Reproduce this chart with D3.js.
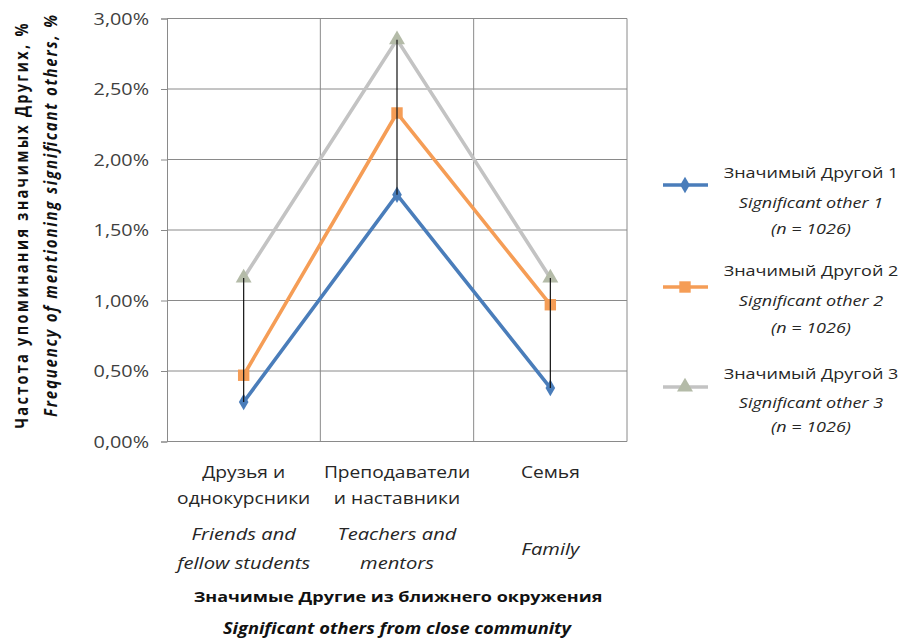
<!DOCTYPE html>
<html><head><meta charset="utf-8">
<script src="https://cdn.jsdelivr.net/npm/d3@7"></script>
<style>
html,body{margin:0;padding:0;background:#fff;}
svg text{font-family:"Open Sans","Noto Sans",sans-serif;fill:#262626;}
</style></head>
<body>
<svg id="chart" width="904" height="640"></svg>
<script>
const categoriesRu = [["Друзья и","однокурсники"],["Преподаватели","и наставники"],["Семья"]];
const categoriesEn = [["Friends and","fellow students"],["Teachers and","mentors"],["Family"]];
const categoryKeys = ["friends","teachers","family"];
const series1 = [0.0028, 0.0175, 0.0038];
const series2 = [0.0047, 0.0233, 0.0097];
const series3 = [0.0116, 0.0285, 0.0116];
const seriesNamesRu = ["Значимый Другой 1","Значимый Другой 2","Значимый Другой 3"];
const seriesNamesEn = ["Significant other 1","Significant other 2","Significant other 3"];
const seriesN = ["(n = 1026)","(n = 1026)","(n = 1026)"];
const yTicks = [0, 0.005, 0.01, 0.015, 0.02, 0.025, 0.03];
const yTitleRu = "Частота упоминания  значимых Других, %";
const yTitleEn = "Frequency of mentioning significant others, %";
const xTitleRu = "Значимые  Другие из ближнего окружения";
const xTitleEn = "Significant others from close  community";

const colors = ["#4a7dba", "#f59d56", "#c3c3c3"];
const markerFill = ["#4a7dba", "#f59d56", "#b4bba8"];
const shapes = [d3.symbolDiamond, d3.symbolSquare, d3.symbolTriangle];
const shapeSize = [80, 130, 110];
const allSeries = [series1, series2, series3];
const SX = 1.2;

const svg = d3.select("#chart");
const L = 167, R = 627, T = 18.5, B = 441.5;
const x = d3.scaleBand().domain(categoryKeys).range([L, R]).padding(0);
const y = d3.scaleLinear().domain([0, 0.03]).range([B, T]);
const cx = k => x(k) + x.bandwidth() / 2;

function stext(g, px, py, str, opts) {
  const t = g.append("text")
    .attr("transform", `translate(${px},${py}) scale(${SX},1)`)
    .attr("text-anchor", opts.anchor || "middle")
    .attr("dominant-baseline", "central")
    .style("font-size", (opts.size || 15) + "px")
    .text(str);
  if (opts.bold) t.style("font-weight", "bold");
  if (opts.italic) t.style("font-style", "italic");
  if (opts.fill) t.style("fill", opts.fill);
  return t;
}

// grid
const grid = svg.append("g");
grid.selectAll("line.h").data(yTicks).join("line")
  .attr("x1", L).attr("x2", R).attr("y1", d => y(d)).attr("y2", d => y(d))
  .attr("stroke", "#8a8a8a").attr("stroke-width", 1);
grid.selectAll("line.v").data(categoryKeys).join("line")
  .attr("x1", d => x(d) + x.bandwidth()).attr("x2", d => x(d) + x.bandwidth())
  .attr("y1", T).attr("y2", B)
  .attr("stroke", "#8a8a8a").attr("stroke-width", 1);

// y axis
const yAxis = svg.append("g").attr("transform", `translate(${L},0)`)
  .call(d3.axisLeft(y).tickValues(yTicks).tickSize(6).tickFormat(() => ""));
yAxis.select(".domain").attr("stroke", "#8a8a8a");
yAxis.selectAll(".tick line").attr("stroke", "#8a8a8a");
const fmt = d => (d * 100).toFixed(2).replace(".", ",") + "%";
yTicks.forEach(v => stext(svg, 149, y(v), fmt(v), {anchor: "end", size: 16.5, fill: "#404040"}));

// lines
const line = d3.line().x((d, i) => cx(categoryKeys[i])).y(d => y(d));
allSeries.forEach((s, si) => {
  svg.append("path").datum(s).attr("d", line)
    .attr("fill", "none").attr("stroke", colors[si]).attr("stroke-width", 3.6)
    .attr("stroke-linejoin", "miter");
});
allSeries.forEach((s, si) => {
  svg.append("g").selectAll("path").data(s).join("path")
    .attr("d", d3.symbol().type(shapes[si]).size(shapeSize[si]))
    .attr("transform", (d, i) => `translate(${cx(categoryKeys[i])},${y(d)})`)
    .attr("fill", markerFill[si]);
});
// high-low lines
categoryKeys.forEach((k, i) => {
  const vals = allSeries.map(s => s[i]);
  svg.append("line").attr("x1", cx(k)).attr("x2", cx(k))
    .attr("y1", y(d3.min(vals))).attr("y2", y(d3.max(vals)))
    .attr("stroke", "#111").attr("stroke-width", 1.2);
});

// category labels
categoryKeys.forEach((k, i) => {
  categoriesRu[i].forEach((t, j) => stext(svg, cx(k), 472 + j * 26, t, {size: 16}));
  const en = categoriesEn[i];
  if (en.length === 2) {
    en.forEach((t, j) => stext(svg, cx(k), 533 + j * 29, t, {size: 16.8, italic: true}));
  } else {
    stext(svg, cx(k), 548, en[0], {size: 16.8, italic: true});
  }
});

// axis titles
stext(svg, 398, 596, xTitleRu, {size: 15, bold: true, fill: "#111"});
stext(svg, 397, 628, xTitleEn, {size: 15.2, bold: true, italic: true, fill: "#111"});

svg.append("text")
  .attr("transform", `translate(21,226) rotate(-90) scale(1,${SX})`)
  .attr("text-anchor", "middle").attr("dominant-baseline", "central")
  .attr("textLength", 405).attr("lengthAdjust", "spacing")
  .style("font-size", "14.5px").style("font-weight", "bold").style("fill", "#111")
  .text(yTitleRu);
svg.append("text")
  .attr("transform", `translate(50,216) rotate(-90) scale(1,${SX})`)
  .attr("text-anchor", "middle").attr("dominant-baseline", "central")
  .attr("textLength", 402).attr("lengthAdjust", "spacing")
  .style("font-size", "15px").style("font-weight", "bold").style("font-style", "italic").style("fill", "#111")
  .text(yTitleEn);

// legend
const legY = [185, 287, 387];
const legTextY = [[172, 202, 228], [270, 300, 327], [373, 402, 426]];
allSeries.forEach((s, si) => {
  const g = svg.append("g");
  g.append("line").attr("x1", 663).attr("x2", 708).attr("y1", legY[si]).attr("y2", legY[si])
    .attr("stroke", colors[si]).attr("stroke-width", 3.6);
  g.append("path").attr("d", d3.symbol().type(shapes[si]).size(shapeSize[si]))
    .attr("transform", `translate(685,${legY[si]})`).attr("fill", markerFill[si]);
  stext(g, 811, legTextY[si][0], seriesNamesRu[si], {size: 15});
  stext(g, 811, legTextY[si][1], seriesNamesEn[si], {size: 15, italic: true});
  stext(g, 811, legTextY[si][2], seriesN[si], {size: 15, italic: true});
});
</script>
</body></html>
